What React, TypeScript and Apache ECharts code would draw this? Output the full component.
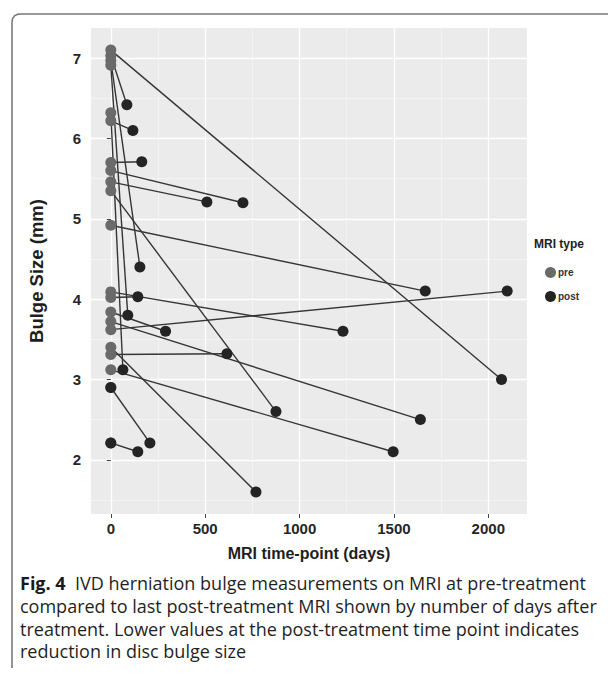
import React, { useEffect, useRef } from "react";
import * as echarts from "echarts";

// pre-treatment bulge size (mm), all at day 0, paired with post measurements
const preSize = [7.1, 7.03, 6.97, 6.91, 6.32, 6.22, 5.7, 5.6, 5.46, 5.35, 4.92, 4.09, 4.02, 3.84, 3.72, 3.62, 3.4, 3.31, 3.12, 2.9, 2.21];
const postDay = [2070, 85, 154, 90, 64, 117, 164, 700, 509, 875, 1666, 1230, 143, 290, 1640, 2100, 769, 615, 1496, 207, 143];
const postSize = [3.0, 6.42, 4.4, 3.8, 3.12, 6.1, 5.71, 5.2, 5.21, 2.6, 4.1, 3.6, 4.03, 3.6, 2.5, 4.1, 1.6, 3.32, 2.1, 2.21, 2.1];
// post points drawn at day 0
const sameDayPostDay = [0, 0];
const sameDayPostSize = [2.9, 2.21];

const xMajor = [0, 500, 1000, 1500, 2000];
const xMinor = [250, 750, 1250, 1750];
const yMajor = [2, 3, 4, 5, 6, 7];
const yMinor = [1.5, 2.5, 3.5, 4.5, 5.5, 6.5];

const captionLines = [
  "IVD herniation bulge measurements on MRI at pre-treatment",
  "compared to last post-treatment MRI shown by number of days after",
  "treatment. Lower values at the post-treatment time point indicates",
  "reduction in disc bulge size",
];

const PRE = "#6a6a6a";
const POST = "#242424";
const FONT = "Liberation Sans, Arial, sans-serif";
const CAP_FONT = "Open Sans, sans-serif";

export default function App() {
  const ref = useRef<HTMLDivElement>(null);
  useEffect(() => {
    if (!ref.current) return;
    const chart = echarts.init(ref.current, undefined, { renderer: "svg" });
    const xMin = -105, xMax = 2205, yMin = 1.325, yMax = 7.375;
    const axisText = { color: "#262626", fontSize: 15, fontWeight: "bold" as const, fontFamily: FONT };
    const option: any = {
      animation: false,
      backgroundColor: "#ffffff",
      grid: { left: 91, right: 81, top: 28, bottom: 164, show: true, backgroundColor: "#ebebeb", borderWidth: 0 },
      xAxis: [
        {
          type: "value", min: xMin, max: xMax,
          axisLine: { show: false },
          axisTick: { show: true, customValues: xMajor, length: 4, lineStyle: { color: "#444", width: 1 } },
          axisLabel: { show: true, customValues: xMajor, margin: 7, formatter: (v: number) => String(v), ...axisText },
          splitLine: { show: true, lineStyle: { color: "#ffffff", width: 1.3 } },
          name: "MRI time-point (days)", nameLocation: "middle", nameGap: 31,
          nameTextStyle: { color: "#1e1e1e", fontSize: 16, fontWeight: "bold", fontFamily: FONT },
        },
        {
          type: "value", min: xMin, max: xMax, position: "bottom",
          axisLine: { show: false },
          axisTick: { show: false, customValues: xMinor },
          axisLabel: { show: false, customValues: xMinor },
          splitLine: { show: true, lineStyle: { color: "#f7f7f7", width: 0.7 } },
        },
      ],
      yAxis: [
        {
          type: "value", min: yMin, max: yMax,
          axisLine: { show: false },
          axisTick: { show: true, customValues: yMajor, length: 4, lineStyle: { color: "#444", width: 1 } },
          axisLabel: { show: true, customValues: yMajor, margin: 10, formatter: (v: number) => String(v), ...axisText },
          splitLine: { show: true, lineStyle: { color: "#ffffff", width: 1.3 } },
          name: "Bulge Size (mm)", nameLocation: "middle", nameGap: 45,
          nameTextStyle: { color: "#1e1e1e", fontSize: 18.5, fontWeight: "bold", fontFamily: FONT },
        },
        {
          type: "value", min: yMin, max: yMax, position: "left",
          axisLine: { show: false },
          axisTick: { show: false, customValues: yMinor },
          axisLabel: { show: false, customValues: yMinor },
          splitLine: { show: true, lineStyle: { color: "#f7f7f7", width: 0.7 } },
        },
      ],
      legend: {
        orient: "vertical", left: 540, top: 262, itemWidth: 11, itemHeight: 11, itemGap: 13,
        icon: "circle", data: ["pre", "post"],
        textStyle: { color: "#333", fontSize: 10, fontWeight: "bold", fontFamily: FONT, padding: [0, 0, 0, -3] },
      },
      series: [
        {
          type: "lines", coordinateSystem: "cartesian2d", xAxisIndex: 0, yAxisIndex: 0,
          silent: true, z: 1,
          lineStyle: { color: "#363636", width: 1.4, opacity: 1 },
          data: preSize.map((v, i) => ({ coords: [[0, v], [postDay[i], postSize[i]]] })),
        },
        {
          name: "pre", type: "scatter", xAxisIndex: 0, yAxisIndex: 0, z: 2,
          symbolSize: 11, itemStyle: { color: PRE, opacity: 1 },
          data: preSize.map((v) => [0, v]),
        },
        {
          name: "post", type: "scatter", xAxisIndex: 0, yAxisIndex: 0, z: 3,
          symbolSize: 11, itemStyle: { color: POST, opacity: 1 },
          data: postDay.map((d, i) => [d, postSize[i]]),
        },
        {
          name: "post", type: "scatter", xAxisIndex: 0, yAxisIndex: 0, z: 3,
          symbolSize: 11, itemStyle: { color: POST, opacity: 1 },
          data: sameDayPostDay.map((d, i) => [d, sameDayPostSize[i]]),
        },
      ],
      graphic: [
        {
          type: "polyline", silent: true,
          shape: { points: [[12, 668], [12, 22], [12.6, 18.5], [14.5, 15.8], [17.5, 14.4], [21, 14], [608, 14]] },
          style: { stroke: "#7a7a7a", lineWidth: 1.6, fill: null },
        },
        {
          type: "text", left: 534, top: 238,
          style: { text: "MRI type", fill: "#222", font: `bold 12px ${FONT}` },
        },
        {
          type: "text", x: 20, y: 583,
          style: {
            text: `{b|Fig. 4}  ${captionLines[0]}`,
            rich: { b: { font: `bold 18px ${CAP_FONT}`, fill: "#1a1a1a" } },
            font: `18px ${CAP_FONT}`, fill: "#1f1f1f", verticalAlign: "middle",
          },
        },
        ...captionLines.slice(1).map((t, i) => ({
          type: "text", x: 20, y: 606 + i * 22.7,
          style: { text: t, font: `18px ${CAP_FONT}`, fill: "#1f1f1f", verticalAlign: "middle" },
        })),
      ],
    };
    chart.setOption(option);
    return () => chart.dispose();
  }, []);
  return <div ref={ref} style={{ position: "fixed", left: 0, top: 0, width: 608, height: 678 }} />;
}
